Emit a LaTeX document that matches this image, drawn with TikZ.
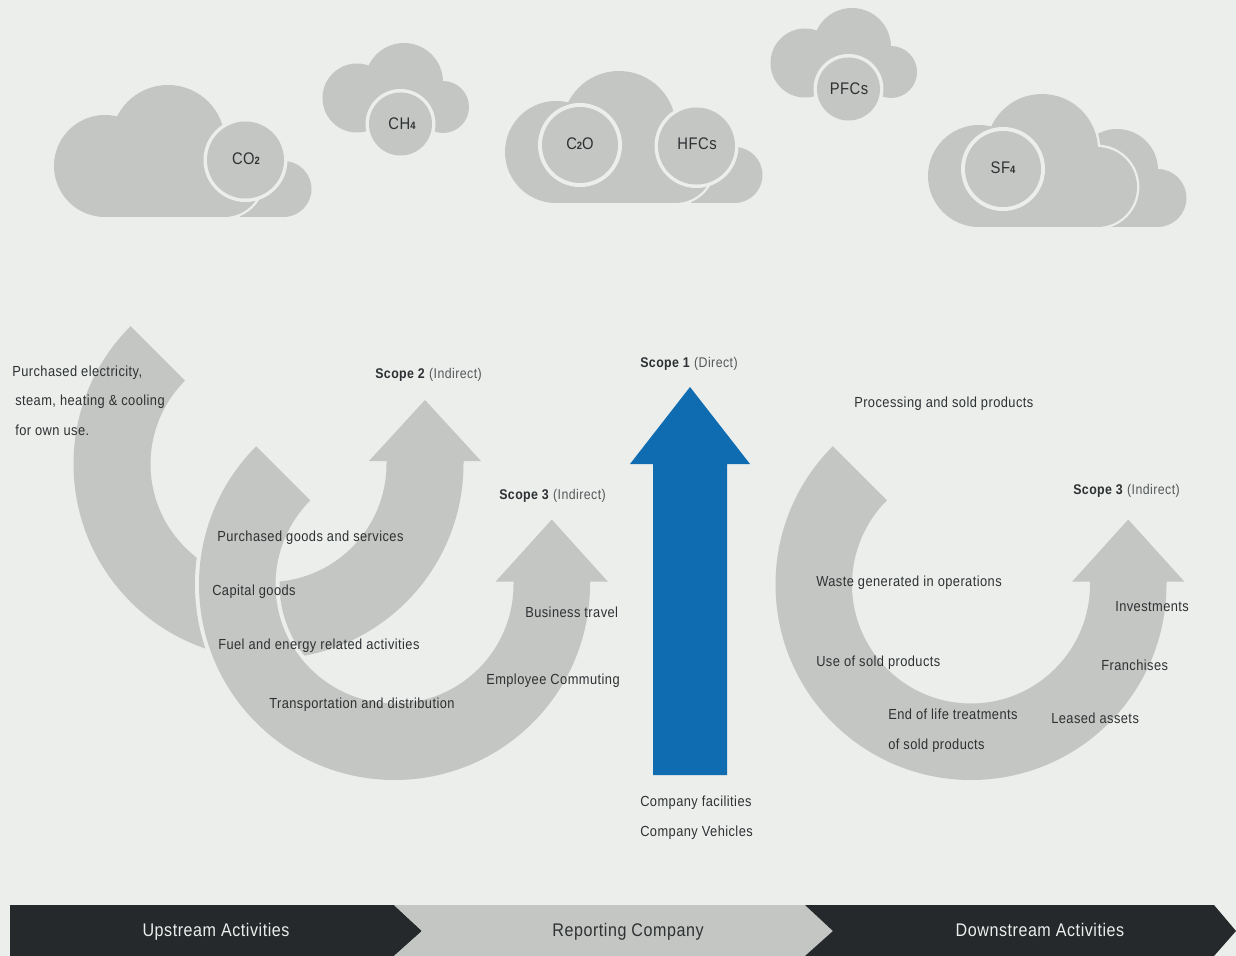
\documentclass[tikz,border=0pt]{standalone}
\usepackage{fontspec}
\setmainfont{Liberation Sans}[FakeStretch=0.88,LetterSpace=3]
\definecolor{bgc}{HTML}{ECEEEC}
\definecolor{gasgray}{HTML}{C4C6C3}
\definecolor{darkbar}{HTML}{26292C}
\definecolor{blueup}{HTML}{0F6CB0}
\definecolor{ink}{HTML}{2E3133}
\definecolor{softink}{HTML}{55585A}
\tikzset{
  lbl/.style={anchor=base west,inner sep=0pt,text=ink,font=\fontsize{10.95pt}{12pt}\selectfont},
  scopelb/.style={anchor=base west,inner sep=0pt,text=ink,font=\fontsize{10.55pt}{12pt}\selectfont},
  gaslbl/.style={inner sep=0pt,text=ink,font=\fontsize{12.6pt}{14pt}\selectfont},
  barlbl/.style={anchor=base,inner sep=0pt,font=\fontsize{13.7pt}{15pt}\selectfont},
  gasfill/.style={fill=gasgray},
  halofill/.style={fill=bgc,draw=bgc,line width=3.5},
}
\newcommand{\subd}[1]{{\fontsize{8pt}{9pt}\selectfont\bfseries #1}}
\newcommand{\scopelbl}[2]{\textbf{Scope #1} {\color{softink}(#2)}}
% arrow: cx cy R r tipoffset
\newcommand{\swooshpath}[5]{
  (#1,#2) ++(225:#3) arc[start angle=225,end angle=0,radius=#3]
  -- ++(0,-3)
  -- ({#1+(#3+#4)/2+56},{#2-3})
  -- ({#1+(#3+#4)/2},{#2-#5})
  -- ({#1+(#3+#4)/2-56},{#2-3})
  -- ({#1+#4},{#2-3})
  -- ({#1+#4},#2) arc[start angle=0,end angle=225,radius=#4] -- cycle}
% clouds: every part gets its own fill so that overlaps never cancel
\newcommand{\wideBody}[1]{
  \path[#1] (105,166) circle[radius=51];
  \path[#1] (168,142) circle[radius=57];
  \path[#1] (224,178) circle[radius=39];
  \path[#1] (105,140) rectangle (224,217);}
\newcommand{\smallBody}[1]{
  \path[#1] (357,98) circle[radius=34.5];
  \path[#1] (404,82) circle[radius=39];
  \path[#1] (443,107) circle[radius=26];
  \path[#1] (357,85) rectangle (443,131);}
\newcommand{\sfBody}[1]{
  \path[#1] (979,176) circle[radius=51];
  \path[#1] (1042,150) circle[radius=56];
  \path[#1] (1097,187) circle[radius=40];
  \path[#1] (979,150) rectangle (1097,227);}
\newcommand{\wideCloud}{
  \path[gasfill] (283.5,189) circle[radius=28];
  \path[gasfill] (240,175) rectangle (283.5,217);
  \wideBody{halofill}
  \wideBody{gasfill}}
\begin{document}
\begin{tikzpicture}[x=0.75pt,y=-0.75pt,line join=miter]
\useasboundingbox (0,0) rectangle (1236,956);
\fill[bgc] (0,0) rectangle (1236,956);

% ---- clouds
\wideCloud
\fill[bgc] (245.5,160) circle[radius=42];
\fill[gasgray] (245.5,160) circle[radius=38.5];
\node[gaslbl] (co2) at (246,159) {CO\subd{2}};

\smallBody{gasfill}
\fill[bgc] (400.5,124) circle[radius=35];
\fill[gasgray] (400.5,124) circle[radius=31.5];
\node[gaslbl] (ch4) at (402,124) {CH\subd{4}};

\begin{scope}[shift={(451,-14)}]
\wideCloud
\fill[bgc] (245.5,160) circle[radius=42];
\fill[gasgray] (245.5,160) circle[radius=38.5];
\fill[bgc] (129,159) circle[radius=42];
\fill[gasgray] (129,159) circle[radius=38];
\end{scope}
\node[gaslbl] (c2o) at (580,144) {C\subd{2}O};
\node[gaslbl] (hfcs) at (697,144) {HFCs};

\begin{scope}[shift={(448,-35)}]
\smallBody{gasfill}
\fill[bgc] (400.5,124) circle[radius=35];
\fill[gasgray] (400.5,124) circle[radius=31.5];
\end{scope}
\node[gaslbl] (pfcs) at (849,89) {PFCs};

% SF4 cloud
\path[gasfill] (1117,170) circle[radius=41];
\path[gasfill] (1157.5,198) circle[radius=29];
\path[gasfill] (1090,170) rectangle (1157.5,227);
\sfBody{halofill}
\sfBody{gasfill}
\fill[bgc] (1003,169) circle[radius=42];
\fill[gasgray] (1003,169) circle[radius=38];
\node[gaslbl] (sf4) at (1003,168) {SF\subd{4}};

% ---- swoosh arrows
\fill[gasgray] \swooshpath{268.5}{464}{195}{118}{64};
\draw[bgc,line width=6] \swooshpath{394.5}{584.5}{195.5}{119}{65};
\fill[gasgray] \swooshpath{394.5}{584.5}{195.5}{119}{65};
\fill[gasgray] \swooshpath{971}{584.5}{195.5}{119}{65};

% ---- blue arrow
\fill[blueup] (690,387) -- (750,464) -- (727,464) -- (727,775) -- (653,775) -- (653,464) -- (630,464) -- cycle;

% ---- labels
\node[lbl] (a1) at (12,376) {Purchased electricity,};
\node[lbl] (a2) at (15,405) {steam, heating \& cooling};
\node[lbl] (a3) at (15,435) {for own use.};
\node[scopelb] (s2) at (375,378) {\scopelbl{2}{Indirect}};
\node[scopelb] (s3a) at (499,499) {\scopelbl{3}{Indirect}};
\node[lbl] (b1) at (217,541) {Purchased goods and services};
\node[lbl] (b2) at (212,595) {Capital goods};
\node[lbl] (b3) at (218,649) {Fuel and energy related activities};
\node[lbl] (b4) at (269,708) {Transportation and distribution};
\node[lbl] (b5) at (525,617) {Business travel};
\node[lbl] (b6) at (486,684) {Employee Commuting};
\node[scopelb] (s1) at (640,367) {\scopelbl{1}{Direct}};
\node[lbl] (c1) at (640,806) {Company facilities};
\node[lbl] (c2) at (640,836) {Company Vehicles};
\node[lbl] (d0) at (854,407) {Processing and sold products};
\node[scopelb] (s3b) at (1073,494) {\scopelbl{3}{Indirect}};
\node[lbl] (d1) at (816,586) {Waste generated in operations};
\node[lbl] (d2) at (1115,611) {Investments};
\node[lbl] (d3) at (816,666) {Use of sold products};
\node[lbl] (d4) at (1101,670) {Franchises};
\node[lbl] (d5) at (888,719) {End of life treatments};
\node[lbl] (d6) at (888,749) {of sold products};
\node[lbl] (d7) at (1051,723) {Leased assets};

% ---- bottom bar
\fill[darkbar] (10,905) -- (394,905) -- (422,931) -- (394,956) -- (10,956) -- cycle;
\fill[gasgray] (394,905) -- (805,905) -- (833,931) -- (805,956) -- (394,956) -- (422,931) -- cycle;
\fill[darkbar] (805,905) -- (1214,905) -- (1236,931) -- (1214,956) -- (805,956) -- (833,931) -- cycle;
\node[barlbl,text=bgc] (up) at (216,936) {Upstream Activities};
\node[barlbl,text=ink] (rep) at (628,936) {Reporting Company};
\node[barlbl,text=bgc] (down) at (1040,936) {Downstream Activities};
\end{tikzpicture}
\end{document}
